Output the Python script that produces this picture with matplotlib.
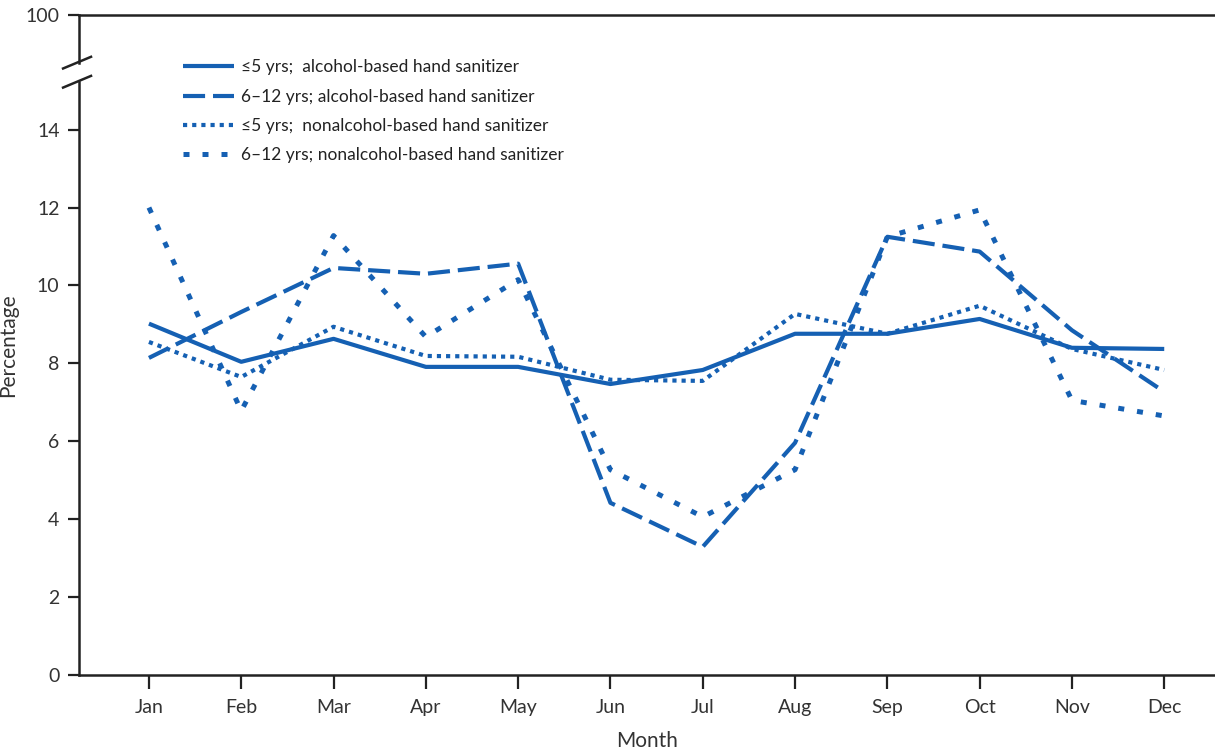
import matplotlib
matplotlib.use("Agg")
import matplotlib.pyplot as plt
import matplotlib.transforms as mtransforms

# --- DATA ---
MONTHS = ["Jan", "Feb", "Mar", "Apr", "May", "Jun", "Jul", "Aug", "Sep", "Oct", "Nov", "Dec"]
alc_le5 = [9.02, 8.04, 8.63, 7.91, 7.91, 7.47, 7.83, 8.76, 8.76, 9.14, 8.40, 8.37]
alc_6_12 = [8.14, 9.32, 10.45, 10.30, 10.56, 4.42, 3.29, 5.96, 11.25, 10.87, 8.85, 7.27]
nonalc_le5 = [8.55, 7.65, 8.94, 8.19, 8.17, 7.58, 7.55, 9.27, 8.76, 9.48, 8.37, 7.83]
nonalc_6_12 = [12.0, 6.78, 11.28, 8.68, 10.15, 5.27, 4.06, 5.27, 11.25, 11.94, 7.05, 6.65]

LABELS = [
    "≤5 yrs;  alcohol-based hand sanitizer",
    "6–12 yrs; alcohol-based hand sanitizer",
    "≤5 yrs;  nonalcohol-based hand sanitizer",
    "6–12 yrs; nonalcohol-based hand sanitizer",
]
YTICKS = [0, 2, 4, 6, 8, 10, 12, 14]
TOP = 16.95  # where the "100" sits after the axis break

BLUE = "#1560b3"
plt.rcParams["font.family"] = ["Lato", "DejaVu Sans"]

fig = plt.figure(figsize=(12.15, 7.52), dpi=100)
ax = fig.add_axes([0.065, 0.1024, 0.935, 0.878])

x = list(range(len(MONTHS)))
lw = 3
ax.plot(x, alc_le5, color=BLUE, lw=lw, solid_capstyle="butt", label=LABELS[0])
ax.plot(x, alc_6_12, color=BLUE, lw=lw, linestyle=(0, (5.3, 1.9)),
        dash_capstyle="butt", label=LABELS[1])
ax.plot(x, nonalc_le5, color=BLUE, lw=lw, linestyle=(0, (1.0, 1.2)),
        dash_capstyle="butt", label=LABELS[2])
ax.plot(x, nonalc_6_12, color=BLUE, lw=lw + 0.6, linestyle=(0, (1.2, 2.6)),
        dash_capstyle="butt", label=LABELS[3])

ax.set_xlim(-0.758, 11.55)
ax.set_ylim(0, TOP)
ax.set_xticks(x)
ax.set_xticklabels(MONTHS)
ax.set_yticks(YTICKS + [TOP])
ax.set_yticklabels([str(v) for v in YTICKS] + ["100"])

ax.tick_params(axis="both", colors="#222222", labelcolor="#333333", labelsize=14,
               width=1.6, direction="out")
ax.tick_params(axis="y", length=8, pad=6)
ax.tick_params(axis="x", length=10, pad=7)

for s in ["top", "bottom", "left"]:
    ax.spines[s].set_linewidth(1.8)
    ax.spines[s].set_color("#222222")
ax.spines["right"].set_visible(False)

# axis break on the left spine
gap_lo, gap_hi = 15.23, 15.72
ax.spines["left"].set_bounds(0, gap_lo)
trans = mtransforms.blended_transform_factory(ax.transAxes, ax.transData)
ax.plot([0, 0], [gap_hi, TOP], color="#222222", lw=1.8, transform=trans, clip_on=False)
for yy in (gap_lo, gap_hi):
    ax.plot([-0.014, 0.0106], [yy - 0.15, yy + 0.15], color="#222222", lw=1.8,
            transform=trans, clip_on=False)

ax.set_ylabel("Percentage", fontsize=15, color="#333333")
ax.yaxis.set_label_coords(-0.054, 0.5)
ax.set_xlabel("Month", fontsize=15, color="#333333")
ax.xaxis.set_label_coords(0.5, -0.085)

leg = ax.legend(loc="upper left", bbox_to_anchor=(0.078, 0.956), frameon=False,
                fontsize=12.5, handlelength=2.9, handletextpad=0.45, labelspacing=0.76,
                labelcolor="#222222")

fig.savefig("out.png", dpi=100)
